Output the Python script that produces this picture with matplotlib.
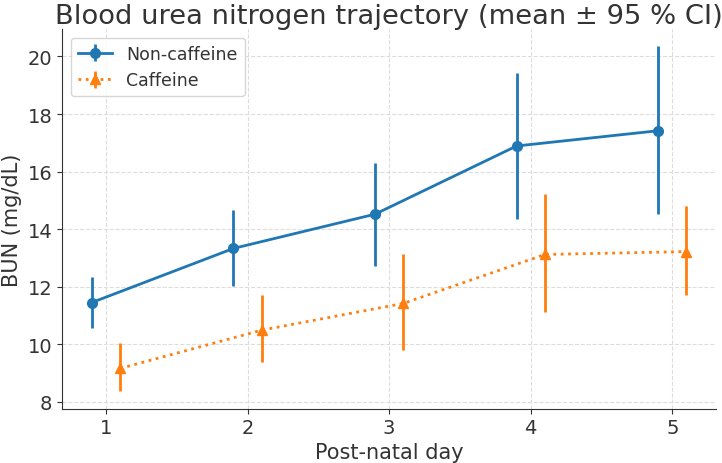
import matplotlib
matplotlib.use("Agg")
import matplotlib.pyplot as plt

days = [1, 2, 3, 4, 5]
non_caf_mean = [11.45, 13.33, 14.52, 16.89, 17.42]
non_caf_lo = [10.57, 12.01, 12.73, 14.36, 14.51]
non_caf_hi = [12.34, 14.65, 16.31, 19.41, 20.35]
caf_mean = [9.16, 10.49, 11.42, 13.12, 13.22]
caf_lo = [8.36, 9.37, 9.79, 11.12, 11.71]
caf_hi = [10.03, 11.71, 13.15, 15.21, 14.79]

plt.rcParams['font.family'] = ['DejaVu Sans']
fig, ax = plt.subplots(figsize=(7.22, 4.64), dpi=100)
fig.subplots_adjust(left=0.086, right=0.992, bottom=0.117, top=0.935)

off = 0.1
x1 = [d - off for d in days]
x2 = [d + off for d in days]
e1 = [[m - l for m, l in zip(non_caf_mean, non_caf_lo)], [h - m for m, h in zip(non_caf_mean, non_caf_hi)]]
e2 = [[m - l for m, l in zip(caf_mean, caf_lo)], [h - m for m, h in zip(caf_mean, caf_hi)]]

ax.errorbar(x1, non_caf_mean, yerr=e1, fmt='-o', color='#1f77b4', lw=2, ms=7,
            elinewidth=2, capsize=0, label='Non-caffeine')
ax.errorbar(x2, caf_mean, yerr=e2, fmt=':^', color='#ff7f0e', lw=2, ms=7,
            elinewidth=2, capsize=0, label='Caffeine')

ax.set_xticks(days)
ax.set_yticks([8, 10, 12, 14, 16, 18, 20])
ax.grid(True, linestyle='--', color='#dddddd', lw=0.8)
ax.set_axisbelow(True)
for s in ['top', 'right']:
    ax.spines[s].set_visible(False)
for s in ['left', 'bottom']:
    ax.spines[s].set_color('#333333')
ax.tick_params(labelsize=14, colors='#333333')
ax.set_xlabel('Post-natal day', fontsize=15, color='#333333', labelpad=3)
ax.set_ylabel('BUN (mg/dL)', fontsize=15, color='#333333')
ax.set_title('Blood urea nitrogen trajectory (mean ± 95 % CI)', fontsize=19.7, color='#333333', pad=4)
ax.legend(loc='upper left', fontsize=12.5, labelcolor='#333333')

fig.savefig('out.png', dpi=100)
